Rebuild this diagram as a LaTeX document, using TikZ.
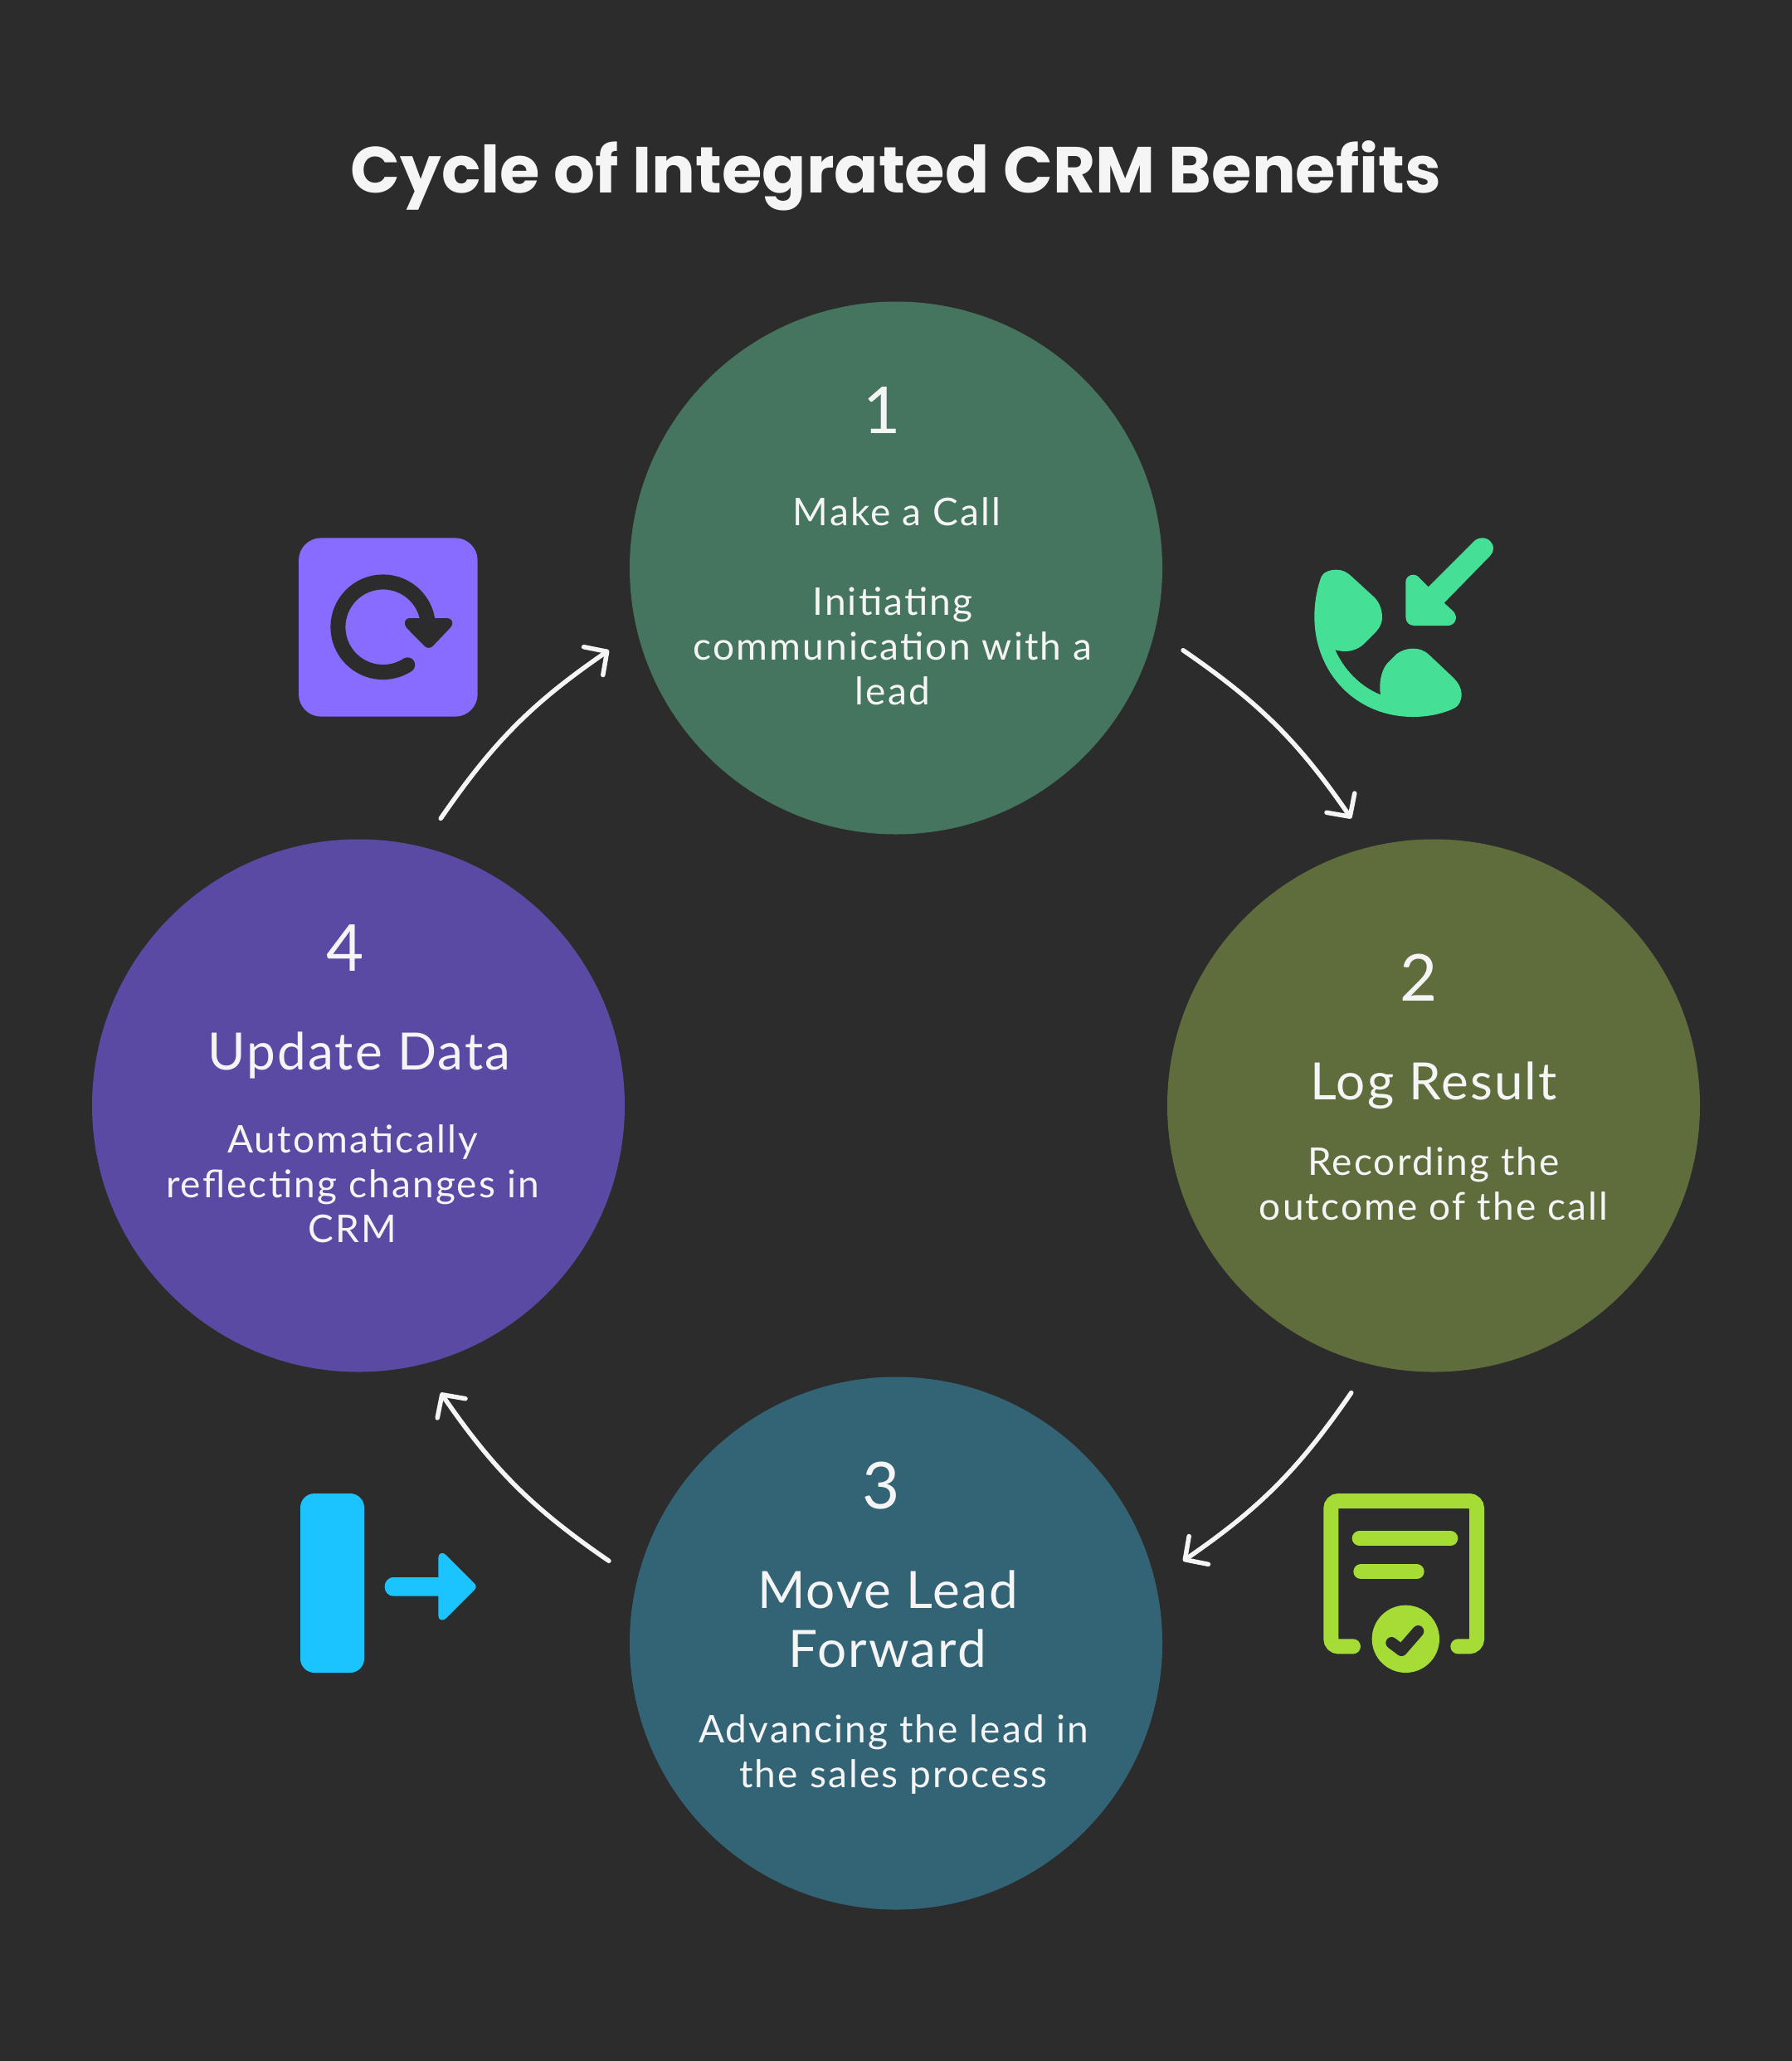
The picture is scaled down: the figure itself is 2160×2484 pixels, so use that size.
\documentclass[tikz,border=0pt]{standalone}
\usepackage{fontspec}
\usetikzlibrary{arrows.meta}
\setmainfont{Lato}
\newfontfamily\titlefont{Poppins}
\newfontfamily\bodyfont{Lato}[LetterSpace=4.7]
\newfontfamily\headfont{Lato}[LetterSpace=3.5]
\definecolor{bgc}{HTML}{2C2C2C}
\definecolor{inkc}{HTML}{F5F5F5}
\definecolor{fillA}{HTML}{45755E}
\definecolor{fillB}{HTML}{5F6D3D}
\definecolor{fillC}{HTML}{336476}
\definecolor{fillD}{HTML}{5A4AA3}
\definecolor{iconA}{HTML}{45E096}
\definecolor{iconB}{HTML}{A5DC36}
\definecolor{iconC}{HTML}{1CC4FF}
\definecolor{iconD}{HTML}{886CFF}
\newcommand{\stack}[1]{\begin{tabular}[t]{@{}c@{}}#1\end{tabular}}
\tikzset{
  disc/.style={circle,minimum size=642pt,inner sep=0pt,outer sep=39pt,fill=#1},
  txt/.style={anchor=base,inner sep=0pt,text=inkc},
  numtxt/.style={txt,font=\fontsize{78}{90}\selectfont},
  headtxt/.style={txt,font=\headfont\fontsize{62}{71}\selectfont},
  bodytxt/.style={txt,font=\bodyfont\fontsize{46}{54}\selectfont},
  flow/.style={draw=inkc,line width=5.5pt,line cap=round,line join=round,-{Straight Barb[length=20pt,width=41pt,round]}},
  iconzoom/.style={x=0.33333pt,y=-0.33333pt,shift={#1}}
}
\begin{document}
\begin{tikzpicture}[x=1pt,y=-1pt]
\useasboundingbox (0,0) rectangle (2160,2484);
\fill[bgc] (0,0) rectangle (2160,2484);
\node[txt,font=\titlefont\bfseries\fontsize{78.5}{88}\selectfont] (title) at (1080,232) {Cycle of Integrated CRM Benefits};

\node[disc=fillA] (c1) at (1080,684.5) {};
\node[disc=fillB] (c2) at (1728,1332.5) {};
\node[disc=fillC] (c3) at (1080,1980.5) {};
\node[disc=fillD] (c4) at (432,1332.5) {};

\draw[flow] (c1.-16) to[bend left=10.5] (c2.106);
\draw[flow] (c2.-106) to[bend left=10.5] (c3.16);
\draw[flow] (c3.164) to[bend left=10.5] (c4.-74);
\draw[flow] (c4.74) to[bend left=10.5] (c1.196);

\node[numtxt] (n1) at (1063,522) {1};
\node[bodytxt] (h1) at (1081,633.5) {Make a Call};
\node[bodytxt] (b1) at (1076,741.5) {\stack{Initiating\\communication with a\\lead}};

\node[numtxt] (n2) at (1710,1206.5) {2};
\node[headtxt] (h2) at (1728,1325.5) {Log Result};
\node[bodytxt] (b2) at (1728,1416.5) {\stack{Recording the\\outcome of the call}};

\node[numtxt] (n3) at (1062,1818) {3};
\node[headtxt] (h3) at (1070,1938.5) {\stack{Move Lead\\Forward}};
\node[bodytxt] (b3) at (1077,2100.5) {\stack{Advancing the lead in\\the sales process}};

\node[numtxt] (n4) at (416,1170) {4};
\node[headtxt] (h4) at (433,1289.5) {Update Data};
\node[bodytxt] (b4) at (425,1389.5) {\stack{Automatically\\reflecting changes in\\CRM}};

% phone icon
\begin{scope}[iconzoom={(1540pt,-620pt)}]
\fill[iconA] (213,200) .. controls (235,200) and (252,210) .. (265,222) -- (350,300)
  .. controls (368,318) and (378,345) .. (378,372) .. controls (378,400) and (362,420) .. (340,440)
  -- (310,470) .. controls (290,488) and (265,495) .. (245,495) .. controls (232,495) and (220,493) .. (208,490)
  .. controls (240,560) and (295,620) .. (372,652) .. controls (366,615) and (372,570) .. (395,540)
  -- (430,505) .. controls (450,490) and (470,485) .. (490,485) .. controls (512,485) and (530,492) .. (545,505)
  -- (635,590) .. controls (655,610) and (665,630) .. (665,650) .. controls (665,675) and (655,692) .. (640,700)
  .. controls (600,720) and (545,732) .. (490,732) .. controls (280,732) and (133,570) .. (133,370)
  .. controls (133,310) and (145,260) .. (158,225) .. controls (165,208) and (190,200) .. (213,200) -- cycle;
\fill[iconA] (463,370) -- (463,243) .. controls (463,222) and (495,205) .. (515,232) -- (545,262) -- (710,97)
  .. controls (725,82) and (755,80) .. (770,98) .. controls (785,113) and (783,135) .. (768,150)
  -- (602,320) -- (635,350) .. controls (655,372) and (642,402) .. (615,402) -- (495,402)
  .. controls (475,402) and (463,390) .. (463,370) -- cycle;
\end{scope}

% rotate icon
\begin{scope}[iconzoom={(320pt,-620pt)}]
\fill[iconD,rounded corners=27pt] (120,85) rectangle (767,731);
\draw[bgc,line width=18pt,line cap=round] (585,375) arc[start angle=-11.4,end angle=-303,radius=163];
\fill[bgc] (520,375) -- (658,375) .. controls (675,375) and (682,395) .. (670,408) -- (608,473)
  .. controls (598,486) and (582,486) .. (572,473) -- (510,410) .. controls (497,395) and (505,375) .. (520,375) -- cycle;
\end{scope}

% document icon
\begin{scope}[iconzoom={(1570pt,-1770pt)}]
\draw[iconB,line width=18pt,line cap=round,rounded corners=9pt] (183,643) -- (103,643) -- (103,117) -- (630,117) -- (630,643) -- (562,643);
\draw[iconB,line width=18pt,line cap=round] (206,252) -- (535,252);
\draw[iconB,line width=18pt,line cap=round] (211,373) -- (413,373);
\fill[iconB] (373,616) circle[radius=122];
\draw[bgc,line width=14pt,line cap=round,line join=round] (322,630) -- (358,657) -- (418,588);
\end{scope}

% exit icon
\begin{scope}[iconzoom={(340pt,-1780pt)}]
\fill[iconC,rounded corners=17pt] (66,60) rectangle (297,708);
\fill[iconC] (404,363) -- (565,363) -- (565,292) .. controls (565,275) and (582,270) .. (592,282) -- (695,385)
  .. controls (703,392) and (703,402) .. (695,409) -- (592,512) .. controls (582,523) and (565,518) .. (565,502)
  -- (565,431) -- (404,431) .. controls (360,431) and (360,363) .. (404,363) -- cycle;
\end{scope}
\end{tikzpicture}
\end{document}
